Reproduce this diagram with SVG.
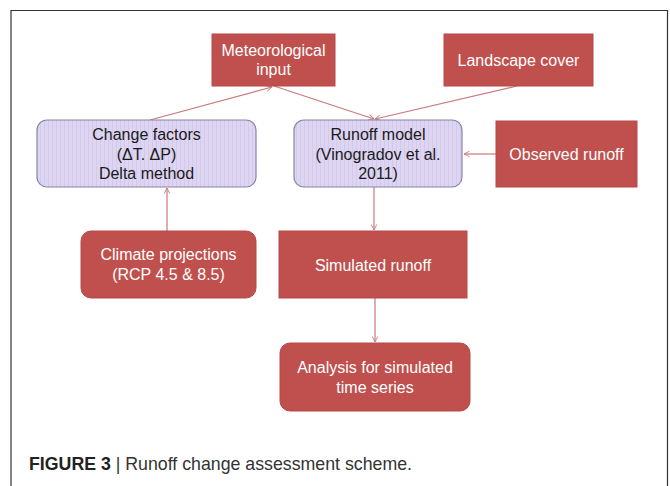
<svg xmlns="http://www.w3.org/2000/svg" width="670" height="486" viewBox="0 0 670 486">
<style>
  .red { fill: #C0504D; stroke: #B8484A; stroke-width: 1; }
  .lav { stroke: #8A84A6; stroke-width: 1.2; }
  .wt { font-family: "Liberation Sans", Arial, sans-serif; font-size: 16px; fill: #FFFFFF; text-anchor: middle; }
  .bt { font-family: "Liberation Sans", Arial, sans-serif; font-size: 16px; fill: #1A1A1A; text-anchor: middle; }
  .conn { stroke: #C97A7A; stroke-width: 1.2; fill: none; marker-end: url(#arr); }
</style>
<defs>
  <marker id="arr" viewBox="0 0 10 10" refX="9" refY="5" markerWidth="7" markerHeight="7" orient="auto" markerUnits="userSpaceOnUse">
    <path d="M1,1 L9,5 L1,9" fill="none" stroke="#C97A7A" stroke-width="1.3"/>
  </marker>
  <pattern id="stripes" width="4" height="10" patternUnits="userSpaceOnUse">
    <rect width="4" height="10" fill="#DED5F2"/>
    <line x1="0.5" y1="0" x2="0.5" y2="10" stroke="#D3C9EA" stroke-width="1"/>
  </pattern>
</defs>
<rect x="0" y="0" width="670" height="486" fill="#FFFFFF"/>
<path d="M11,486 L11,10.5 L667.5,10.5 L667.5,486" fill="none" stroke="#333333" stroke-width="1.2"/>

<g id="connectors">
  <line class="conn" x1="150" y1="120" x2="272" y2="87"/>
  <line class="conn" x1="274" y1="86" x2="374" y2="119"/>
  <line class="conn" x1="517" y1="86" x2="375" y2="119"/>
  <line class="conn" x1="496" y1="154" x2="464" y2="154"/>
  <line class="conn" x1="167" y1="231" x2="167" y2="188"/>
  <line class="conn" x1="374" y1="187" x2="374" y2="230"/>
  <line class="conn" x1="375" y1="298" x2="375" y2="342"/>
</g>

<g id="meteorological-input">
  <rect class="red" x="212" y="34" width="123" height="52"/>
  <text class="wt" x="273.5" y="55.5">Meteorological</text>
  <text class="wt" x="273.5" y="75">input</text>
</g>
<g id="landscape-cover">
  <rect class="red" x="444" y="34" width="149" height="52"/>
  <text class="wt" x="518.5" y="65.5">Landscape cover</text>
</g>
<g id="change-factors">
  <rect class="lav" x="37" y="120" width="219" height="67" rx="10" style="fill:url(#stripes)"/>
  <text class="bt" x="146.5" y="139.5">Change factors</text>
  <text class="bt" x="146.5" y="160">(ΔT. ΔP)</text>
  <text class="bt" x="146.5" y="178.5">Delta method</text>
</g>
<g id="runoff-model">
  <rect class="lav" x="294" y="120" width="168" height="67" rx="10" style="fill:url(#stripes)"/>
  <text class="bt" x="378" y="139.5">Runoff model</text>
  <text class="bt" x="378" y="160">(Vinogradov et al.</text>
  <text class="bt" x="378" y="178.5">2011)</text>
</g>
<g id="observed-runoff">
  <rect class="red" x="496" y="121" width="141" height="66"/>
  <text class="wt" x="566.5" y="159.5">Observed runoff</text>
</g>
<g id="climate-projections">
  <rect class="red" x="81" y="231" width="175" height="67" rx="10"/>
  <text class="wt" x="168.5" y="260">Climate projections</text>
  <text class="wt" x="168.5" y="280">(RCP 4.5 &amp; 8.5)</text>
</g>
<g id="simulated-runoff">
  <rect class="red" x="279" y="231" width="188" height="67"/>
  <text class="wt" x="373" y="270.5">Simulated runoff</text>
</g>
<g id="analysis">
  <rect class="red" x="280" y="343" width="190" height="68" rx="10"/>
  <text class="wt" x="375" y="373">Analysis for simulated</text>
  <text class="wt" x="375" y="392.5">time series</text>
</g>

<text x="29" y="469.5" font-family="Liberation Sans, Arial, sans-serif" font-size="17.8" fill="#333333" textLength="383" lengthAdjust="spacingAndGlyphs"><tspan font-weight="bold" fill="#222222">FIGURE 3</tspan> | Runoff change assessment scheme.</text>
</svg>
